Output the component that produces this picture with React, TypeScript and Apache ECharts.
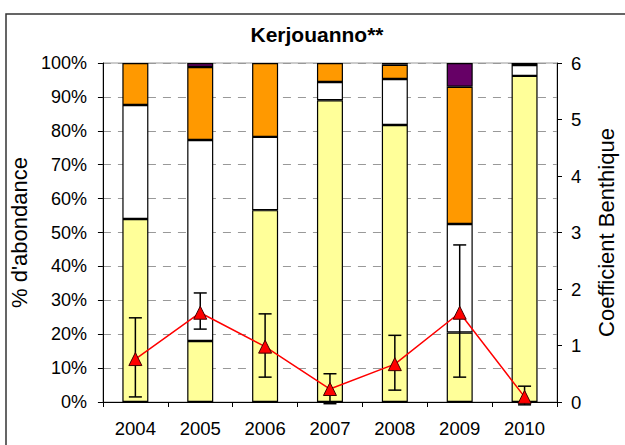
import React, { useEffect, useRef } from "react";
import * as echarts from "echarts";

const years = ["2004", "2005", "2006", "2007", "2008", "2009", "2010"];
const yellowPct = [54, 18, 56.6, 89, 81.7, 20.5, 96.2];
const whitePct = [33.6, 59.3, 21.6, 5.4, 13.6, 32, 3.2];
const orangePct = [12.4, 21.5, 21.8, 5.6, 4.2, 40.5, null];
const purplePct = [null, 1.2, null, null, 0.5, 7, 0.6];
const coeff = [0.76, 1.58, 0.98, 0.23, 0.67, 1.58, 0.09];
const errHigh = [1.49, 1.93, 1.56, 0.5, 1.18, 2.78, 0.28];
const errLow = [0.09, 1.29, 0.44, -0.03, 0.21, 0.44, -0.05];

const FONT = "Liberation Sans, Arial, sans-serif";

export default function App() {
  const ref = useRef<HTMLDivElement>(null);
  useEffect(() => {
    const chart = echarts.init(ref.current!, null, { renderer: "svg" });
    const barStyle = (color: string) => ({
      color,
      borderColor: "#000",
      borderWidth: 1.2,
    });
    const mkBar = (name: string, data: any[], color: string) => ({
      name,
      type: "bar",
      stack: "pct",
      barWidth: 26,
      data,
      itemStyle: barStyle(color),
      z: 2,
    });
    chart.setOption({
      animation: false,
      backgroundColor: "#fff",
      textStyle: { fontFamily: FONT },
      title: {
        text: "Kerjouanno**",
        left: 312,
        textAlign: "center",
        top: 19,
        textStyle: { fontFamily: FONT, fontSize: 21, fontWeight: "bold", color: "#000" },
      },
      graphic: [
        {
          type: "rect",
          shape: { x: 6, y: 14, width: 640, height: 460 },
          style: { fill: "none", stroke: "#333", lineWidth: 1.5 },
          silent: true,
          z: -10,
        },
      ],
      grid: {
        left: 100,
        right: 65,
        top: 63,
        bottom: 43,
        show: true,
        borderColor: "#999",
        borderWidth: 1,
      },
      xAxis: {
        type: "category",
        data: years,
        boundaryGap: true,
        axisLine: { lineStyle: { color: "#000", width: 1 } },
        axisTick: { show: true, length: 5, alignWithLabel: false, lineStyle: { color: "#000" } },
        axisLabel: { fontSize: 18.5, color: "#000", margin: 17, fontFamily: FONT },
      },
      yAxis: [
        {
          type: "value",
          min: 0,
          max: 100,
          interval: 10,
          name: "% d'abondance",
          nameLocation: "middle",
          nameGap: 64,
          nameRotate: 90,
          nameTextStyle: { fontSize: 22, color: "#000", fontFamily: FONT },
          axisLine: { show: true, lineStyle: { color: "#000" } },
          axisTick: { show: true, length: 5, lineStyle: { color: "#000" } },
          axisLabel: { formatter: "{value}%", fontSize: 18, color: "#000", margin: 16, fontFamily: FONT },
          splitLine: { show: true, lineStyle: { color: "#999", type: [8, 7], width: 1.2 } },
        },
        {
          type: "value",
          min: 0,
          max: 6,
          interval: 1,
          position: "right",
          name: "Coefficient Benthique",
          nameLocation: "middle",
          nameGap: 38,
          nameRotate: 90,
          nameTextStyle: { fontSize: 22, color: "#000", fontFamily: FONT },
          axisLine: { show: true, lineStyle: { color: "#000" } },
          axisTick: { show: true, length: 5, lineStyle: { color: "#000" } },
          axisLabel: { fontSize: 18.5, color: "#000", margin: 14, fontFamily: FONT },
          splitLine: { show: false },
        },
      ],
      series: [
        mkBar("jaune", yellowPct, "#FFFF99"),
        mkBar("blanc", whitePct, "#FFFFFF"),
        mkBar("orange", orangePct, "#FF9900"),
        mkBar("violet", purplePct, "#660066"),
        {
          name: "erreur",
          type: "custom",
          yAxisIndex: 1,
          clip: false,
          z: 5,
          data: years.map((_, i) => [i, errLow[i], errHigh[i]]),
          renderItem: (params: any, api: any) => {
            const x = api.value(0);
            const lo = api.coord([x, api.value(1)]);
            const hi = api.coord([x, api.value(2)]);
            const hw = 6.5;
            const style = { stroke: "#000", lineWidth: 1.5, fill: "none" };
            return {
              type: "group",
              children: [
                { type: "line", shape: { x1: lo[0], y1: lo[1], x2: hi[0], y2: hi[1] }, style },
                { type: "line", shape: { x1: hi[0] - hw, y1: hi[1], x2: hi[0] + hw, y2: hi[1] }, style },
                { type: "line", shape: { x1: lo[0] - hw, y1: lo[1], x2: lo[0] + hw, y2: lo[1] }, style },
              ],
            };
          },
        },
        {
          name: "CB",
          type: "line",
          yAxisIndex: 1,
          data: coeff,
          z: 6,
          symbol: "triangle",
          symbolSize: 13,
          lineStyle: { color: "#FF0000", width: 1.5 },
          itemStyle: { color: "#FF0000", borderColor: "#400000", borderWidth: 1 },
        },
      ],
    });
    return () => chart.dispose();
  }, []);
  return (
    <div
      ref={ref}
      style={{ position: "fixed", left: 0, top: 0, width: 625, height: 445, background: "#fff" }}
    />
  );
}
